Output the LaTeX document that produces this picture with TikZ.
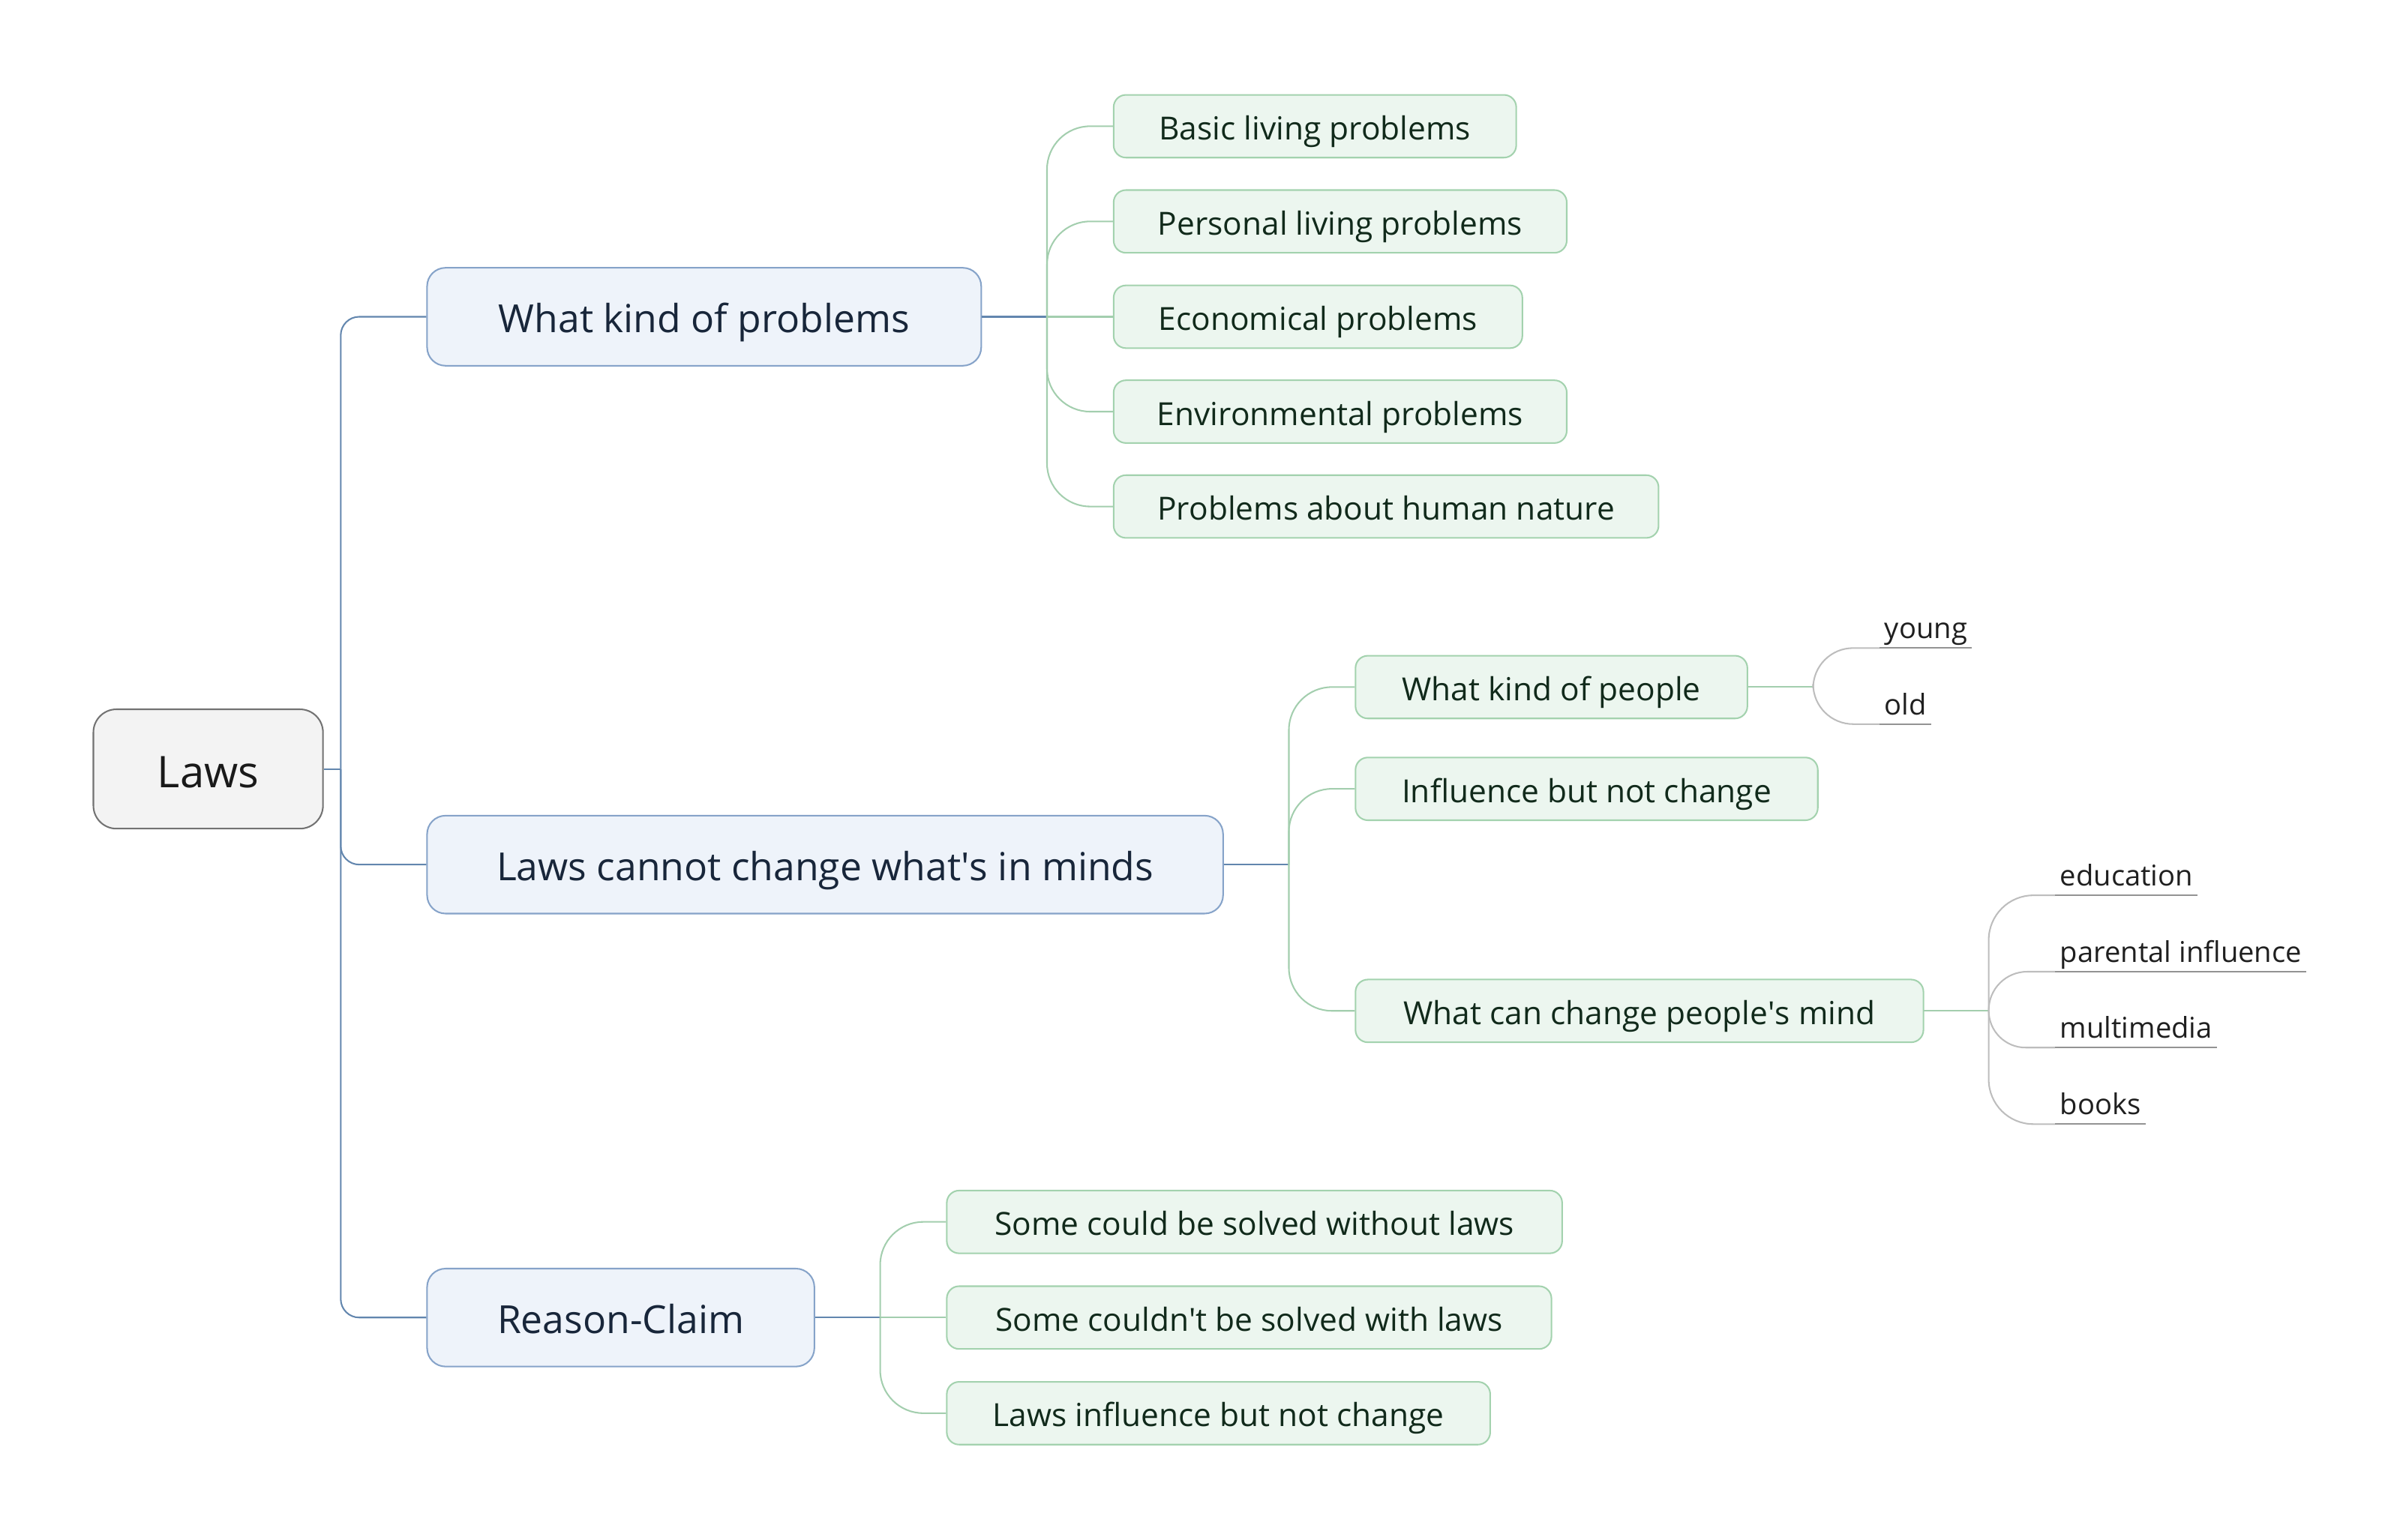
\documentclass[tikz,border=0pt]{standalone}
\usepackage{fontspec}
\setmainfont{Open Sans}
\definecolor{rootfill}{HTML}{F3F3F3}
\definecolor{rootdraw}{HTML}{727272}
\definecolor{bluefill}{HTML}{EEF3FA}
\definecolor{bluedraw}{HTML}{86A3C9}
\definecolor{greenfill}{HTML}{ECF6EF}
\definecolor{greendraw}{HTML}{A3D2AE}
\definecolor{blueline}{HTML}{6286AE}
\definecolor{greenline}{HTML}{A3CEAE}
\definecolor{greyline}{HTML}{BDBDBD}
\definecolor{underline}{HTML}{939393}
\definecolor{bluetext}{HTML}{18263A}
\definecolor{greentext}{HTML}{112A1B}
\tikzset{
  rootbox/.style={draw=rootdraw, fill=rootfill, line width=1pt, rounded corners=15pt,
    minimum width=150pt, minimum height=78pt, inner sep=0pt, text=black!90,
    text height=30pt, text depth=6.1pt,
    font=\fontsize{28.5}{32}\selectfont},
  lonebox/.style={draw=bluedraw, fill=bluefill, line width=1pt, rounded corners=12pt,
    minimum height=64pt, inner sep=0pt, anchor=west, text=bluetext,
    text height=26pt, text depth=5.5pt,
    font=\fontsize{25.3}{30}\selectfont},
  ltwobox/.style={draw=greendraw, fill=greenfill, line width=1pt, rounded corners=8pt,
    minimum height=41pt, inner sep=0pt, anchor=west, text=greentext,
    text height=22pt, text depth=4.3pt,
    font=\fontsize{20.8}{24}\selectfont},
  leaf/.style={anchor=south west, inner xsep=3pt, inner ysep=1.8pt, text=black!88,
    text height=14pt, text depth=4.2pt,
    font=\fontsize{18.7}{22}\selectfont},
  rootlink/.style={draw=blueline, line width=1pt},
  greenlink/.style={draw=greenline, line width=1pt},
  greylink/.style={draw=greyline, line width=1pt},
  uline/.style={draw=underline, line width=1pt},
}
\begin{document}
\begin{tikzpicture}[x=1pt, y=-1pt]
\useasboundingbox (0,0) rectangle (1560,1000.9);
\begin{scope}[scale=0.995, transform shape]
% root
\node[rootbox] (root) at (136,502.5) {Laws};

% level 1
\node[lonebox, minimum width=362pt] (kp) at (278.5,207) {What kind of problems};
\node[lonebox, minimum width=520pt] (lc) at (278.5,565) {Laws cannot change what\textquotesingle s in minds};
\node[lonebox, minimum width=253pt] (rc) at (278.5,861) {Reason-Claim};

% level 2, group 1
\node[ltwobox, minimum width=263pt] (basic) at (727,82.5) {Basic living problems};
\node[ltwobox, minimum width=296pt] (pers) at (727,144.7) {Personal living problems};
\node[ltwobox, minimum width=267pt] (econ) at (727,207) {Economical problems};
\node[ltwobox, minimum width=296pt] (env) at (727,269) {Environmental problems};
\node[ltwobox, minimum width=356pt] (hum) at (727,331) {Problems about human nature};

% level 2, group 2
\node[ltwobox, minimum width=256pt] (wkp) at (885,449) {What kind of people};
\node[ltwobox, minimum width=302pt] (inf) at (885,515.5) {Influence but not change};
\node[ltwobox, minimum width=371pt] (wcc) at (885,660.6) {What can change people\textquotesingle s mind};

% level 2, group 3
\node[ltwobox, minimum width=402pt] (sc) at (618,798.5) {Some could be solved without laws};
\node[ltwobox, minimum width=395pt] (scn) at (618,861) {Some couldn\textquotesingle t be solved with laws};
\node[ltwobox, minimum width=355pt] (lib) at (618,923.5) {Laws influence but not change};

% leaves
\node[leaf] (young) at (1228,423.5) {young};
\node[leaf] (old) at (1228,473.2) {old};
\node[leaf] (edu) at (1342.6,585.1) {education};
\node[leaf] (par) at (1342.6,635) {parental influence};
\node[leaf] (mul) at (1342.6,684.6) {multimedia};
\node[leaf] (boo) at (1342.6,734.6) {books};

% trunk points
\coordinate (t0) at (222.6,502.5);
\coordinate (t1) at (684,207);
\coordinate (t2) at (842,565);
\coordinate (t3) at (575,861);
\coordinate (t4) at (1184.5,449);
\coordinate (t5) at (1299.2,660.6);

% root connectors
\draw[rootlink] (root.east) -- (t0);
\draw[rootlink, rounded corners=12pt] (t0) |- (kp.west);
\draw[rootlink, rounded corners=12pt] (t0) |- (lc.west);
\draw[rootlink, rounded corners=12pt] (t0) |- (rc.west);

% group 1 connectors
\draw[rootlink] (kp.east) -- (t1);
\draw[greenlink, rounded corners=28pt] (t1) |- (basic.west);
\draw[greenlink, rounded corners=28pt] (t1) |- (pers.west);
\draw[greenlink] (t1) -- (econ.west);
\draw[greenlink, rounded corners=28pt] (t1) |- (env.west);
\draw[greenlink, rounded corners=28pt] (t1) |- (hum.west);

% group 2 connectors
\draw[rootlink] (lc.east) -- (t2);
\draw[greenlink, rounded corners=28pt] (t2) |- (wkp.west);
\draw[greenlink, rounded corners=28pt] (t2) |- (inf.west);
\draw[greenlink, rounded corners=28pt] (t2) |- (wcc.west);

% group 3 connectors
\draw[rootlink] (rc.east) -- (t3);
\draw[greenlink, rounded corners=28pt] (t3) |- (sc.west);
\draw[greenlink] (t3) -- (scn.west);
\draw[greenlink, rounded corners=28pt] (t3) |- (lib.west);

% leaf connectors
\draw[greenlink] (wkp.east) -- (t4);
\draw[greylink, rounded corners=26pt] (t4) |- (young.south west);
\draw[uline] (young.south west) -- (young.south east);
\draw[greylink, rounded corners=26pt] (t4) |- (old.south west);
\draw[uline] (old.south west) -- (old.south east);
\draw[greenlink] (wcc.east) -- (t5);
\draw[greylink, rounded corners=29pt] (t5) |- (edu.south west);
\draw[uline] (edu.south west) -- (edu.south east);
\draw[greylink, rounded corners=25pt] (t5) |- (par.south west);
\draw[uline] (par.south west) -- (par.south east);
\draw[greylink, rounded corners=24pt] (t5) |- (mul.south west);
\draw[uline] (mul.south west) -- (mul.south east);
\draw[greylink, rounded corners=29pt] (t5) |- (boo.south west);
\draw[uline] (boo.south west) -- (boo.south east);
\end{scope}
\end{tikzpicture}
\end{document}
